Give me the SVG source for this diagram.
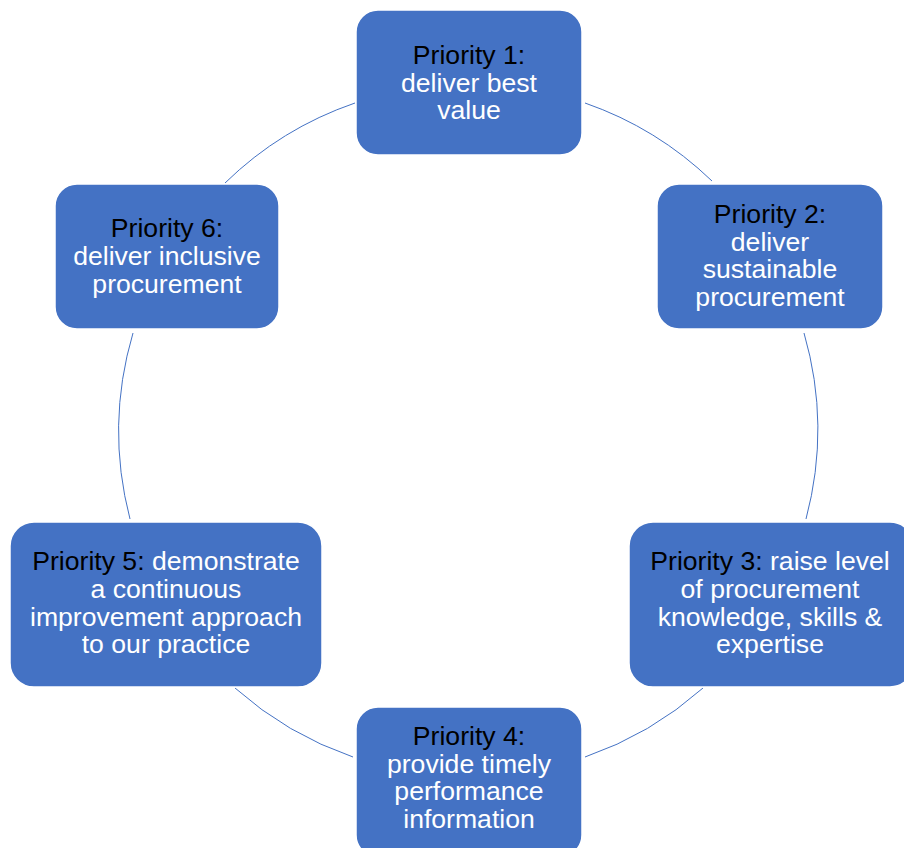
<svg xmlns="http://www.w3.org/2000/svg" width="904" height="848" viewBox="0 0 904 848">
<style>
.box{fill:#4472C4;stroke:#ffffff;stroke-width:1.5}
.t{font-family:"Liberation Sans",Arial,sans-serif;font-size:26.6px;text-anchor:middle;fill:#ffffff}
.k{fill:#000000}
.arc{fill:none;stroke:#4472C4;stroke-width:1}
</style>
<rect width="904" height="848" fill="#ffffff"/>
<g id="connectors">
<path class="arc" d="M585,103 A348,348 0 0 1 712,181"/>
<path class="arc" d="M804,333 A348,348 0 0 1 806,519"/>
<path class="arc" d="M703,688 A348,348 0 0 1 585,757"/>
<path class="arc" d="M353,757 A348,348 0 0 1 235,688"/>
<path class="arc" d="M130,519 A348,348 0 0 1 133,333"/>
<path class="arc" d="M225,183 A348,348 0 0 1 355,103"/>
</g>
<g id="node1">
<rect class="box" x="356" y="10" width="226" height="145" rx="22"/>
<text class="t" x="469" y="64"><tspan class="k">Priority 1:</tspan><tspan x="469" dy="27.5">deliver best</tspan><tspan x="469" dy="27.5">value</tspan></text>
</g>
<g id="node2">
<rect class="box" x="657" y="184" width="226" height="145" rx="22"/>
<text class="t" x="770" y="223"><tspan class="k">Priority 2:</tspan><tspan x="770" dy="27.5">deliver</tspan><tspan x="770" dy="27.5">sustainable</tspan><tspan x="770" dy="27.5">procurement</tspan></text>
</g>
<g id="node3">
<rect class="box" x="629" y="522" width="285" height="165" rx="24"/>
<text class="t" x="770" y="570"><tspan class="k">Priority 3:</tspan> raise level<tspan x="770" dy="27.8">of procurement</tspan><tspan x="770" dy="27.8">knowledge, skills &amp;</tspan><tspan x="770" dy="27.8">expertise</tspan></text>
</g>
<g id="node4">
<rect class="box" x="356" y="707" width="226" height="150" rx="22"/>
<text class="t" x="469" y="745"><tspan class="k">Priority 4:</tspan><tspan x="469" dy="27.7">provide timely</tspan><tspan x="469" dy="27.7">performance</tspan><tspan x="469" dy="27.7">information</tspan></text>
</g>
<g id="node5">
<rect class="box" x="10" y="522" width="312" height="165" rx="24"/>
<text class="t" x="166" y="570"><tspan class="k">Priority 5:</tspan> demonstrate<tspan x="166" dy="27.8">a continuous</tspan><tspan x="166" dy="27.8">improvement approach</tspan><tspan x="166" dy="27.8">to our practice</tspan></text>
</g>
<g id="node6">
<rect class="box" x="55" y="184" width="224" height="145" rx="22"/>
<text class="t" x="167" y="237"><tspan class="k">Priority 6:</tspan><tspan x="167" dy="27.8">deliver inclusive</tspan><tspan x="167" dy="27.8">procurement</tspan></text>
</g>
</svg>
